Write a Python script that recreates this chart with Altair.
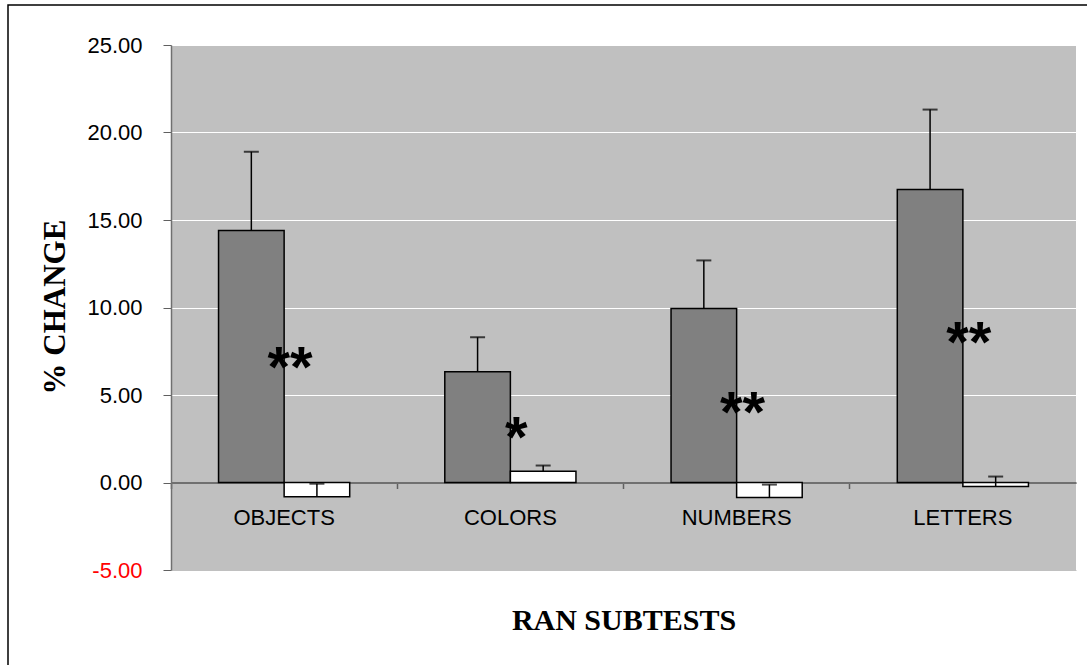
import altair as alt
import pandas as pd

categories = ["OBJECTS", "COLORS", "NUMBERS", "LETTERS"]
series_names = ["Series 1", "Series 2"]
series1_values = [14.4, 6.33, 9.94, 16.74]
series1_err = [4.5, 1.97, 2.75, 4.57]
series2_values = [-0.82, 0.65, -0.86, -0.23]
series2_err = [0.75, 0.32, 0.74, 0.57]
star_text = ["**", "*", "**", "**"]
star_y = [6.9, 2.9, 4.3, 8.3]
y_ticks = [-5, 0, 5, 10, 15, 20, 25]

rows = []
for i, c in enumerate(categories):
    rows.append({"cat": c, "series": series_names[0], "value": series1_values[i],
                 "top": series1_values[i] + series1_err[i]})
    rows.append({"cat": c, "series": series_names[1], "value": series2_values[i],
                 "top": series2_values[i] + series2_err[i]})
df = pd.DataFrame(rows)
stars = pd.DataFrame({"cat": categories, "txt": star_text, "y": star_y})
labels = pd.DataFrame({"cat": categories})

W, H = 905, 525
LABEL_Y = -2.43

xscale = alt.Scale(domain=categories, paddingInner=0, paddingOuter=0)
yscale = alt.Scale(domain=[-5, 25], nice=False, zero=False)
xoff = alt.XOffset("series:N", sort=series_names,
                   scale=alt.Scale(paddingInner=0, paddingOuter=0.725))

x_axis = alt.Axis(
    labels=False, ticks=True, tickSize=6, tickWidth=1.5, tickColor="#606060",
    bandPosition=0, domain=True, domainColor="#707070", domainWidth=2,
    offset=-87.5, grid=False,
    title="RAN SUBTESTS", titleFont="Liberation Serif", titleFontSize=30,
    titleFontWeight="bold", titleColor="black", titleX=W / 2, titleY=146.5,
    titleBaseline="alphabetic", titleAlign="center",
)
y_axis = alt.Axis(
    values=y_ticks, grid=True,
    labelExpr="datum.value < 0 ? '-' + format(abs(datum.value), '.2f') : format(datum.value, '.2f')",
    gridColor=alt.condition("datum.value <= 0", alt.value("#C0C0C0"), alt.value("white")),
    gridWidth=1, tickSize=8, tickColor="#606060", domainColor="#707070",
    domainWidth=1.5, labelFont="Liberation Sans", labelFontSize=22, labelPadding=21,
    labelColor=alt.condition("datum.value < 0", alt.value("#FF0000"), alt.value("black")),
    title="% CHANGE", titleFont="Liberation Serif", titleFontSize=31,
    titleFontWeight="bold", titleColor="black", titleX=-107, titleY=261.5,
    titleAngle=-90, titleBaseline="alphabetic", titleAlign="center",
)

bars = alt.Chart(df).mark_bar(stroke="black", strokeWidth=1.5).encode(
    x=alt.X("cat:N", sort=categories, scale=xscale, axis=x_axis),
    xOffset=xoff,
    y=alt.Y("value:Q", scale=yscale, axis=y_axis),
    color=alt.Color("series:N", sort=series_names,
                    scale=alt.Scale(domain=series_names, range=["#808080", "#FFFFFF"]),
                    legend=None),
)

err = alt.Chart(df).mark_rule(color="black", strokeWidth=1.5).encode(
    x=alt.X("cat:N", sort=categories, scale=xscale),
    xOffset=xoff,
    y=alt.Y("value:Q", scale=yscale),
    y2="top:Q",
)

caps = alt.Chart(df).mark_tick(color="black", thickness=2, size=15, orient="horizontal").encode(
    x=alt.X("cat:N", sort=categories, scale=xscale),
    xOffset=xoff,
    y=alt.Y("top:Q", scale=yscale),
)

star_marks = alt.Chart(stars).mark_text(
    font="Liberation Sans", fontSize=58, fontWeight="bold", color="black",
    align="center", baseline="middle", dx=6, dy=8,
).encode(
    x=alt.X("cat:N", sort=categories, scale=xscale),
    y=alt.Y("y:Q", scale=yscale),
    text="txt:N",
)

cat_labels = alt.Chart(labels).mark_text(
    font="Liberation Sans", fontSize=22, color="black",
    align="center", baseline="alphabetic",
).encode(
    x=alt.X("cat:N", sort=categories, scale=xscale),
    y=alt.datum(LABEL_Y, scale=yscale),
    text="cat:N",
)

frame = alt.Chart(alt.Data(values=[{"k": 1}])).mark_rect(
    fillOpacity=0, stroke="black", strokeWidth=1.5
).encode(
    x=alt.value(-163), x2=alt.value(930), y=alt.value(-40), y2=alt.value(640)
)

chart = alt.layer(bars, err, caps, star_marks, cat_labels, frame).properties(
    width=W, height=H,
    autosize=alt.AutoSizeParams(type="none"),
    padding={"left": 171, "top": 45, "right": 11, "bottom": 95},
    background="white",
).configure_view(fill="#C0C0C0", stroke=None)

chart.save("out.html", embed_options={"renderer": "svg", "actions": False})
